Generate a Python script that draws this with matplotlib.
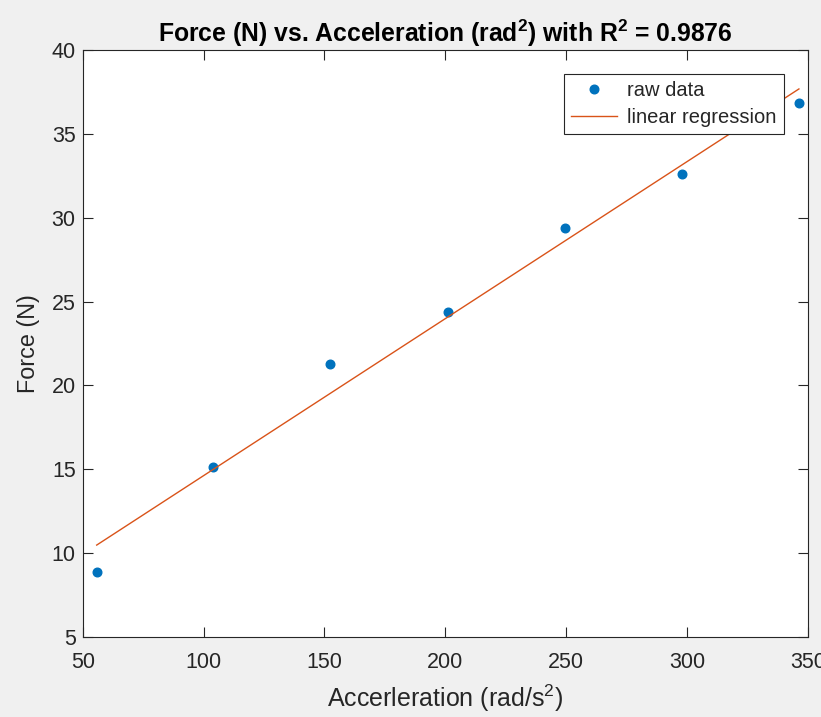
import numpy as np
import matplotlib
matplotlib.use("Agg")
import matplotlib.pyplot as plt

plt.rcParams["font.family"] = ["Liberation Sans", "DejaVu Sans"]
plt.rcParams["mathtext.default"] = "regular"

# measured acceleration (rad/s^2) and force (N)
accel = [55.8, 104.1, 152.5, 201.3, 249.5, 298.0, 346.3]
force = [8.89, 15.13, 21.28, 24.40, 29.38, 32.63, 36.85]
r_squared = "0.9876"

xTicks = [50, 100, 150, 200, 250, 300, 350]
yTicks = [5, 10, 15, 20, 25, 30, 35, 40]

axisColor = "#262626"

coef = np.polyfit(accel, force, 1)
fitX = np.array([accel[0], accel[-1]])
fitY = np.polyval(coef, fitX)

fig = plt.figure(figsize=(8.21, 7.17), dpi=100, facecolor="#f0f0f0")
ax = fig.add_axes([0.1007, 0.1116, 0.8833, 0.8187])
ax.set_facecolor("white")

ax.plot(accel, force, linestyle="none", marker="o", markersize=6.2,
        color="#0072BD", label="raw data")
ax.plot(fitX, fitY, color="#D95319", linewidth=1.0, label="linear regression")

ax.set_xlim(50, 350)
ax.set_ylim(5, 40)
ax.set_xticks(xTicks)
ax.set_yticks(yTicks)
ax.tick_params(direction="in", length=7, width=0.8, top=True, right=True,
               labelsize=15.5, colors=axisColor)
ax.tick_params(axis="x", pad=11)
ax.tick_params(axis="y", pad=5)
for side in ax.spines.values():
    side.set_color(axisColor)
    side.set_linewidth(0.8)

ax.set_xlabel("Accerleration (rad/s$^2$)", fontsize=18, color=axisColor, labelpad=7)
ax.set_ylabel("Force (N)", fontsize=16.8, color=axisColor, labelpad=8)
ax.set_title("Force (N) vs. Acceleration (rad$^2$) with R$^2$ = " + r_squared,
             fontsize=17.8, fontweight="bold", color="black", pad=6)

leg = ax.legend(loc="upper right", fontsize=14.5, fancybox=False,
                borderaxespad=1.2, handlelength=2.3, borderpad=0.35,
                labelspacing=0.38, handletextpad=0.5)
leg.get_frame().set_edgecolor(axisColor)
leg.get_frame().set_linewidth(0.8)
leg.get_frame().set_alpha(1.0)
for t in leg.get_texts():
    t.set_color(axisColor)

fig.savefig("out.png", dpi=100, facecolor=fig.get_facecolor())
